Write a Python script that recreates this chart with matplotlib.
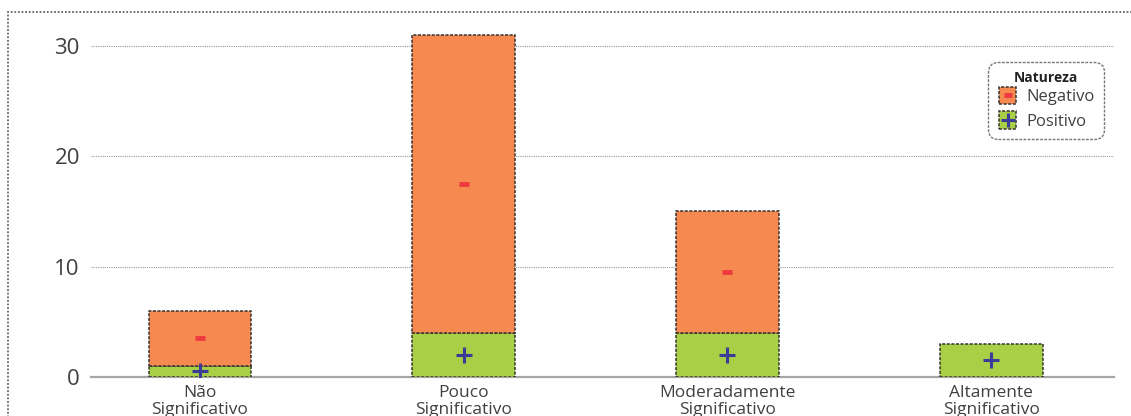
import numpy as np
import matplotlib
matplotlib.use("Agg")
import matplotlib.pyplot as plt
from matplotlib.patches import Rectangle
from matplotlib.legend_handler import HandlerBase
from matplotlib.lines import Line2D

plt.rcParams["font.family"] = ["Open Sans", "DejaVu Sans"]

categories = ["Não\nSignificativo", "Pouco\nSignificativo",
              "Moderadamente\nSignificativo", "Altamente\nSignificativo"]
positivo = [1, 4, 4, 3]
negativo = [5, 27, 11, 0]
y_ticks = [0, 10, 20, 30]

ORANGE = "#f5894f"
GREEN = "#a8cf45"
RED = "#ee3a3f"
BLUE = "#3b3c98"
EDGE = "#333333"
TEXT = "#404040"
BAR_W = 0.39

PLUS = dict(marker="+", markersize=12, markeredgewidth=2.2, color=BLUE)
MINUS = dict(marker="_", markersize=7, markeredgewidth=3.5, color=RED)


class SignHandler(HandlerBase):
    """Legend key: dashed coloured square with a sign in the middle."""

    def __init__(self, face, sign_style):
        super().__init__()
        self.face, self.sign_style = face, sign_style

    def create_artists(self, legend, orig_handle, xdescent, ydescent,
                       width, height, fontsize, trans):
        s = min(width, height * 1.15)
        x0 = -xdescent + (width - s) / 2
        y0 = -ydescent + (height - s) / 2
        sq = Rectangle((x0, y0), s, s, facecolor=self.face, edgecolor=EDGE,
                       linestyle=(0, (2, 1)), linewidth=1.1, transform=trans)
        style = dict(self.sign_style)
        style["markersize"] *= 0.85
        mark = Line2D([x0 + s / 2], [y0 + s / 2], linestyle="none",
                      transform=trans, **style)
        return [sq, mark]


fig = plt.figure(figsize=(11.31, 4.16), dpi=100)
ax = fig.add_axes([0.0805, 0.09375, 0.9045, 0.849])

x = np.arange(len(categories))
pos = np.array(positivo, dtype=float)
neg = np.array(negativo, dtype=float)
has_neg = neg > 0

bar_kw = dict(width=BAR_W, edgecolor=EDGE, linewidth=1.1,
              linestyle=(0, (2, 1)), zorder=3)
pos_bars = ax.bar(x, pos, color=GREEN, **bar_kw)
neg_bars = ax.bar(x[has_neg], neg[has_neg], bottom=pos[has_neg],
                  color=ORANGE, **bar_kw)

# signs at the middle of each segment
ax.plot(x[pos > 0], pos[pos > 0] / 2, linestyle="none", zorder=4, **PLUS)
ax.plot(x[has_neg], pos[has_neg] + neg[has_neg] / 2, linestyle="none",
        zorder=4, **MINUS)

ax.set_xlim(-0.413, 3.466)
ax.set_ylim(0, 32)
ax.set_yticks(y_ticks)
ax.set_xticks(x)
ax.set_xticklabels(categories, fontsize=12.5, color=TEXT, linespacing=1.05)
ax.tick_params(axis="y", labelsize=16, labelcolor=TEXT, length=0, pad=8)
ax.tick_params(axis="x", length=0, pad=6)
ax.grid(axis="y", color="#999999", linestyle=(0, (1, 1)), linewidth=0.8,
        zorder=0)
for side in ("top", "right", "left"):
    ax.spines[side].set_visible(False)
ax.spines["bottom"].set_color("#a6a6a6")
ax.spines["bottom"].set_linewidth(1.6)
ax.spines["bottom"].set_zorder(2)

leg = ax.legend(
    [neg_bars, pos_bars], ["Negativo", "Positivo"],
    handler_map={neg_bars: SignHandler(ORANGE, MINUS),
                 pos_bars: SignHandler(GREEN, PLUS)},
    title="Natureza", loc="upper right", bbox_to_anchor=(0.99, 0.892),
    borderaxespad=0, fontsize=12, title_fontproperties={"weight": "bold",
                                                         "size": 10},
    handlelength=1.25, handleheight=1.0, handletextpad=0.5,
    labelspacing=0.45, borderpad=0.55, fancybox=True, framealpha=1)
leg._legend_box.sep = 2
leg.get_title().set_color("#222222")
for t in leg.get_texts():
    t.set_color(TEXT)
frame = leg.get_frame()
frame.set_edgecolor("#777777")
frame.set_linestyle((0, (2, 1)))
frame.set_linewidth(1.0)
frame.set_boxstyle("round,pad=0,rounding_size=0.6")

# dotted outer frame running off the right and bottom edges
fig.patches.append(Rectangle((8 / 1131, -0.2), 1.2, 0.2 + (416 - 12) / 416,
                             transform=fig.transFigure, fill=False,
                             edgecolor="#666666", linestyle=(0, (1, 1)),
                             linewidth=1.3))

fig.savefig("out.png", dpi=100)
